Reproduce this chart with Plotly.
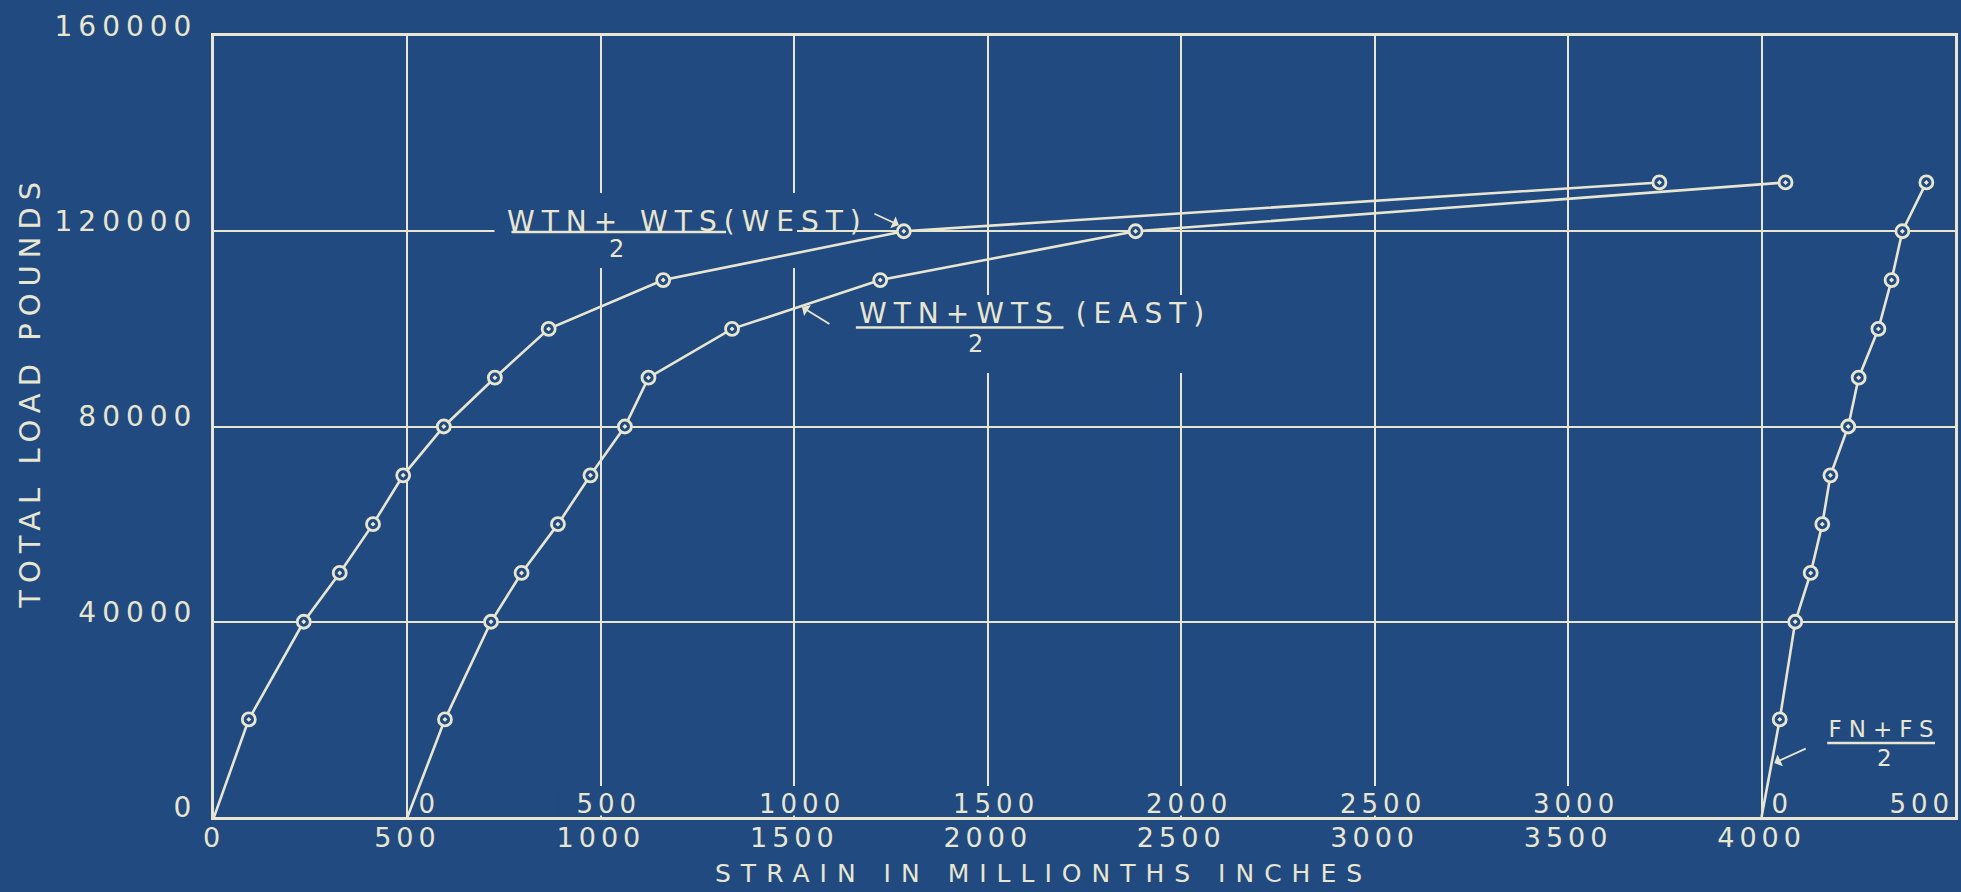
import json
import plotly.graph_objects as go

# Applied load steps (pounds)
load = [0, 20000, 40000, 50000, 60000, 70000, 80000, 90000, 100000, 110000, 120000, 130000]

# Strain readings in millionths of an inch, averaged gauge pairs
strain_west = [0, 90, 232, 325, 411, 489, 594, 726, 865, 1161, 1783, 3736]
strain_east = [0, 97, 216, 295, 389, 473, 562, 623, 839, 1222, 1882, 3562]
strain_fnfs = [0, 47, 87, 127, 157, 178, 224, 251, 302, 336, 364, 426]

# Each curve is plotted from its own zero along the common strain axis
origin_west = 0
origin_east = 500
origin_fnfs = 4000

# Main scale and the two offset scales written inside the frame
x_ticks = [0, 500, 1000, 1500, 2000, 2500, 3000, 3500, 4000]
y_ticks = [0, 40000, 80000, 120000, 160000]
east_scale = [0, 500, 1000, 1500, 2000, 2500, 3000]
fnfs_scale = [0, 500]

PAPER = "#214a80"
INK = "#e8e6d0"
FONT = "DejaVu Sans"

W, H = 1961, 892
M = dict(l=214, r=3, t=36, b=75)
X_RANGE = [0, 4500]
Y_RANGE = [0, 160000]
plot_w = W - M["l"] - M["r"]
plot_h = H - M["t"] - M["b"]


def to_data(px, py):
    """Canvas pixel position -> data units, for placing callouts."""
    x = X_RANGE[0] + (px - M["l"]) / plot_w * (X_RANGE[1] - X_RANGE[0])
    y = Y_RANGE[0] + (M["t"] + plot_h - py) / plot_h * (Y_RANGE[1] - Y_RANGE[0])
    return x, y


def curve(strain, origin, name):
    return go.Scatter(
        x=[origin + s for s in strain],
        y=load,
        mode="lines+markers",
        name=name,
        showlegend=False,
        line=dict(color=INK, width=2.6),
        marker=dict(
            symbol="circle-dot",
            size=13,
            color=PAPER,
            opacity=[0] + [1] * (len(load) - 1),
            line=dict(color=INK, width=2.8),
        ),
    )


fig = go.Figure()
fig.add_trace(curve(strain_west, origin_west, "(WTN+WTS)/2 WEST"))
fig.add_trace(curve(strain_east, origin_east, "(WTN+WTS)/2 EAST"))
fig.add_trace(curve(strain_fnfs, origin_fnfs, "(FN+FS)/2"))

shapes = []
annotations = []
spacing = {}  # annotation index -> letter spacing (px)


def add_text(text, px, py, size, space, angle=0):
    x, y = to_data(px, py)
    spacing[len(annotations)] = space
    annotations.append(dict(
        text=text, x=x, y=y, xref="x", yref="y", xanchor="center", yanchor="middle",
        showarrow=False, textangle=angle, font=dict(family=FONT, size=size, color=INK),
    ))


def add_bar(px0, px1, py):
    x0, y0 = to_data(px0, py)
    x1, _ = to_data(px1, py)
    shapes.append(dict(type="line", xref="x", yref="y", x0=x0, x1=x1, y0=y0, y1=y0,
                       line=dict(color=INK, width=2.6), layer="above"))


def add_leader(tail, head):
    tx, ty = to_data(*tail)
    hx, hy = to_data(*head)
    annotations.append(dict(
        text="", x=hx, y=hy, ax=tx, ay=ty, xref="x", yref="y", axref="x", ayref="y",
        showarrow=True, arrowhead=1, arrowsize=1.2, arrowwidth=1.8, arrowcolor=INK,
    ))


def add_mask(px0, py0, px1, py1):
    # paper-coloured patch that interrupts the grid behind lettering
    x0, y0 = to_data(px0, py1)
    x1, y1 = to_data(px1, py0)
    shapes.append(dict(type="rect", xref="x", yref="y", x0=x0, x1=x1, y0=y0, y1=y1,
                       fillcolor=PAPER, line=dict(width=0), layer="between"))


# Grid breaks behind the lettering
add_mask(495, 193, 798, 268)
add_mask(848, 295, 1214, 373)
add_mask(560, 786, 1700, 815.5)

# Curve labels
add_text("WTN+ WTS(WEST)", 688, 221, 28, 7)
add_bar(512, 727, 232)
add_text("2", 617, 249, 24, 0)
add_leader((874, 213), (900, 225))

add_text("WTN+WTS (EAST)", 1036, 313, 28, 7)
add_bar(857, 1065, 327.5)
add_text("2", 977, 344, 24, 0)
add_leader((832, 325), (803, 307))

add_text("FN+FS", 1887, 728.5, 23, 7)
add_bar(1830, 1938, 743)
add_text("2", 1887, 757.5, 23, 0)
add_leader((1810, 748), (1777, 763))

# Offset scales for the EAST and FN+FS curves, lettered just above the base line
for v in east_scale:
    spacing[len(annotations)] = 5
    annotations.append(dict(
        text=str(v), x=origin_east + v, y=0, xref="x", yref="y", xanchor="center",
        yanchor="middle", yshift=13, xshift=22 if v == 0 else 8, showarrow=False,
        font=dict(family=FONT, size=26, color=INK),
    ))
for v in fnfs_scale:
    spacing[len(annotations)] = 5
    annotations.append(dict(
        text=str(v), x=origin_fnfs + v, y=0, xref="x", yref="y", xanchor="center",
        yanchor="middle", yshift=13, xshift=21 if v == 0 else -33, showarrow=False,
        font=dict(family=FONT, size=26, color=INK),
    ))

# Axis titles
spacing[len(annotations)] = 10
annotations.append(dict(
    text="STRAIN IN MILLIONTHS INCHES", x=(1045 - M["l"]) / plot_w, y=(M["t"] + plot_h - 873) / plot_h,
    xref="paper", yref="paper", xanchor="center", yanchor="middle", showarrow=False,
    font=dict(family=FONT, size=25, color=INK),
))
spacing[len(annotations)] = 7
annotations.append(dict(
    text="TOTAL LOAD POUNDS", x=(30 - M["l"]) / plot_w, y=(M["t"] + plot_h - 392) / plot_h,
    xref="paper", yref="paper", xanchor="center", yanchor="middle", showarrow=False,
    textangle=-90, font=dict(family=FONT, size=29, color=INK),
))

axis_common = dict(
    showline=True, mirror=True, linecolor=INK, linewidth=3,
    showgrid=True, gridcolor=INK, gridwidth=2, zeroline=False, ticks="",
)

fig.update_layout(
    width=W, height=H, margin=M,
    paper_bgcolor=PAPER, plot_bgcolor=PAPER,
    font=dict(family=FONT, color=INK),
    shapes=shapes, annotations=annotations,
    xaxis=dict(
        range=X_RANGE, tickmode="array", tickvals=x_ticks, ticktext=[str(v) for v in x_ticks],
        tickfont=dict(family=FONT, size=27, color=INK), ticklabelstandoff=-5, **axis_common,
    ),
    yaxis=dict(
        range=Y_RANGE, tickmode="array", tickvals=y_ticks, ticktext=[str(v) for v in y_ticks],
        tickfont=dict(family=FONT, size=28, color=INK), ticklabelstandoff=8,
        ticklabelshift=-10, **axis_common,
    ),
)

css = ".ytick text{letter-spacing:6px}.xtick text{letter-spacing:5px}" + "".join(
    '.annotation[data-index="%d"] .annotation-text{letter-spacing:%dpx}' % (i, s)
    for i, s in spacing.items() if s
)
post = "var s=document.createElement('style');s.textContent=%s;document.head.appendChild(s);" % json.dumps(css)

fig.write_html("out.html", post_script=post)
